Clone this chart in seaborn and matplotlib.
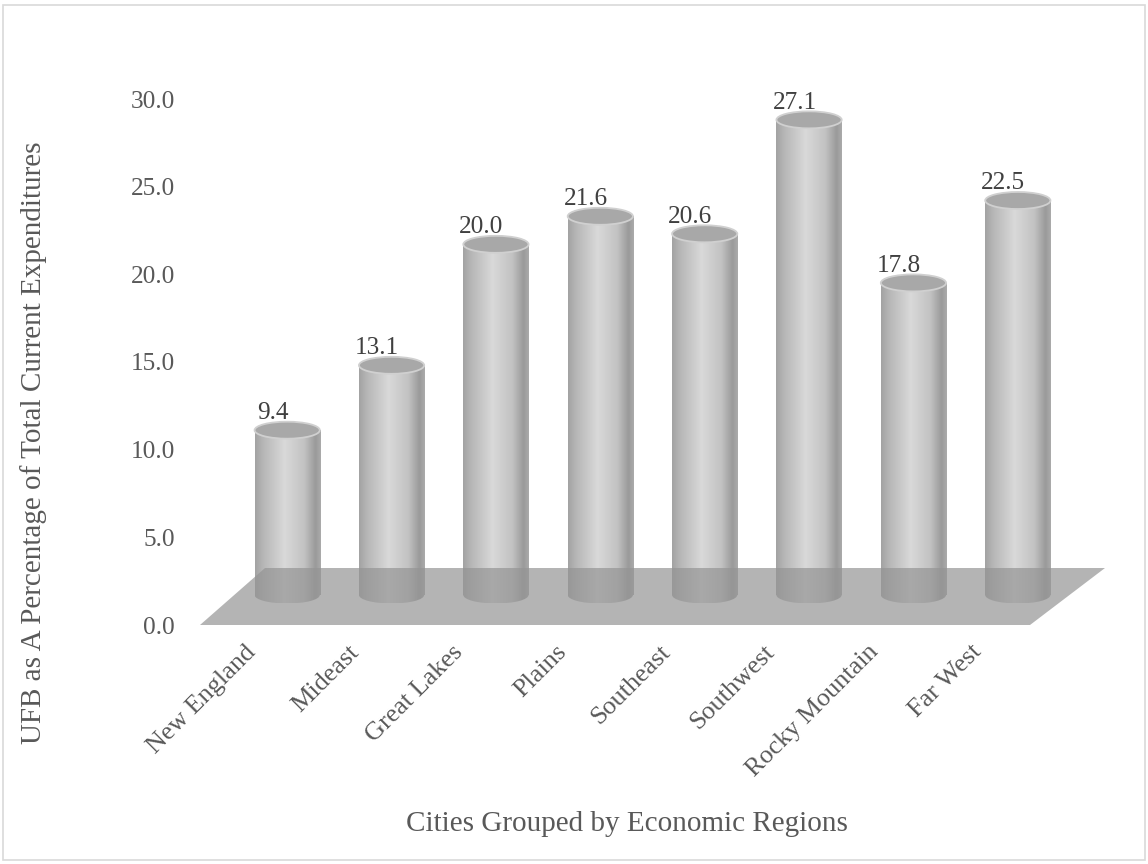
import numpy as np
import pandas as pd
import seaborn as sns
import matplotlib
matplotlib.use("Agg")
import matplotlib.pyplot as plt
from matplotlib.patches import Ellipse, Polygon, Rectangle
from matplotlib.colors import LinearSegmentedColormap

# ---------------- data ----------------
regions = ["New England", "Mideast", "Great Lakes", "Plains", "Southeast",
           "Southwest", "Rocky Mountain", "Far West"]
values = [9.4, 13.1, 20.0, 21.6, 20.6, 27.1, 17.8, 22.5]
yticks = [0.0, 5.0, 10.0, 15.0, 20.0, 25.0, 30.0]
ylabel = "UFB as A Percentage of Total Current Expenditures"
xlabel = "Cities Grouped by Economic Regions"

df = pd.DataFrame({"region": regions, "value": values})

sns.set_theme(style="white")
plt.rcParams["font.family"] = ["Liberation Serif", "DejaVu Serif"]

W, H = 1148, 864
fig = plt.figure(figsize=(W / 100, H / 100), dpi=100)

def fx(px):
    return px / W

def fy(py):
    return 1 - py / H

# front (axis) plane
ax_left, ax_right = 200, 1030
y0_px, y30_px = 625, 99
ppu = (y0_px - y30_px) / 30.0  # pixels per unit
ax = fig.add_axes([fx(ax_left), fy(y0_px), fx(ax_right - ax_left), (y0_px - y30_px) / H])
# bar plane (mid depth), extended one unit below zero so bottom caps show
bx_left, bx_w, dy = 235, 835, 30
ylo = -1.0
axb = fig.add_axes([fx(bx_left), fy(y0_px - dy - ylo * ppu),
                    fx(bx_w), (30 - ylo) * ppu / H])

text_col = "#595959"
fs_tick = 18.3
fs_xtick = 18.8
fs_title = 21
fs_data = 18.2

# ----- front axes: ticks and labels -----
ax.set_xlim(-0.5, len(regions) - 0.5)
ax.set_ylim(0, 30)
ax.set_xticks(np.arange(len(regions)) - 0.07)
ax.set_xticklabels(regions, rotation=45, ha="right", va="top",
                   rotation_mode="anchor", fontsize=fs_xtick, color=text_col)
ax.set_yticks(yticks)
ax.set_yticklabels([f"{t:.1f}" for t in yticks], fontsize=fs_tick, color=text_col)
ax.tick_params(axis="both", length=0)
ax.tick_params(axis="y", pad=18)
ax.tick_params(axis="x", pad=11.5)
for s in ax.spines.values():
    s.set_visible(False)
ax.patch.set_alpha(0)
ax.set_ylabel(ylabel, fontsize=fs_title, color=text_col)
ax.set_xlabel(xlabel, fontsize=fs_title, color=text_col)
ax.yaxis.set_label_coords((47 - ax_left) / (ax_right - ax_left),
                          (y0_px - 443) / (y0_px - y30_px))
ax.xaxis.set_label_coords((627 - ax_left) / (ax_right - ax_left),
                          (y0_px - 811) / (y0_px - y30_px))

# ----- bar axes -----
sns.barplot(data=df, x="region", y="value", ax=axb, width=0.625,
            color="#d0d0d0", saturation=1, linewidth=0, zorder=2)
axb.set_xlim(-0.5, len(regions) - 0.5)
axb.set_ylim(ylo, 30)
axb.axis("off")
axb.patch.set_alpha(0)

cmap = LinearSegmentedColormap.from_list(
    "cyl", [(0.0, "#a2a2a2"), (0.12, "#b6b6b6"), (0.45, "#d9d9d9"),
            (0.75, "#c2c2c2"), (0.92, "#9a9a9a"), (1.0, "#ababab")])
grad = np.linspace(0, 1, 256).reshape(1, -1)

ell_h = 17 / ppu  # ellipse height in data units
for patch, v in zip(axb.patches, values):
    x0 = patch.get_x()
    w = patch.get_width()
    xc = x0 + w / 2
    patch.set_alpha(0)
    im = axb.imshow(grad, cmap=cmap, aspect="auto",
                    extent=(x0, x0 + w, 0, v), zorder=3)
    im.set_clip_path(patch)
    bot = Ellipse((xc, 0), w, ell_h, facecolor="none", edgecolor="none")
    axb.add_patch(bot)
    im2 = axb.imshow(grad, cmap=cmap, aspect="auto",
                     extent=(x0, x0 + w, -ell_h / 2, 0.02), zorder=3)
    im2.set_clip_path(bot)
    top = Ellipse((xc, v), w, ell_h, facecolor="#a8a8a8",
                  edgecolor="#d0d0d0", linewidth=1.3, zorder=4)
    axb.add_patch(top)
    top.set_clip_on(False)
    axb.text(xc - 0.139, v + 0.63, f"{v:.1f}", ha="center", va="baseline",
             fontsize=fs_data, color="#404040", zorder=6, clip_on=False)

axb.set_ylim(ylo, 30)
axb.set_xlim(-0.5, len(regions) - 0.5)

# floor (semi-transparent plane over bar bottoms)
floor = Polygon([(fx(200), fy(625)), (fx(1030), fy(625)),
                 (fx(1105), fy(568)), (fx(265), fy(568))],
                closed=True, transform=fig.transFigure,
                facecolor="#949494", edgecolor="none", alpha=0.7, zorder=5)
axb.add_patch(floor)
floor.set_clip_on(False)

# figure border
fig.patches.append(Rectangle((fx(3), fy(860)), fx(1142), (860 - 5) / H,
                             transform=fig.transFigure, fill=False,
                             edgecolor="#d9d9d9", linewidth=1.2))

fig.savefig("out.png", dpi=100)
